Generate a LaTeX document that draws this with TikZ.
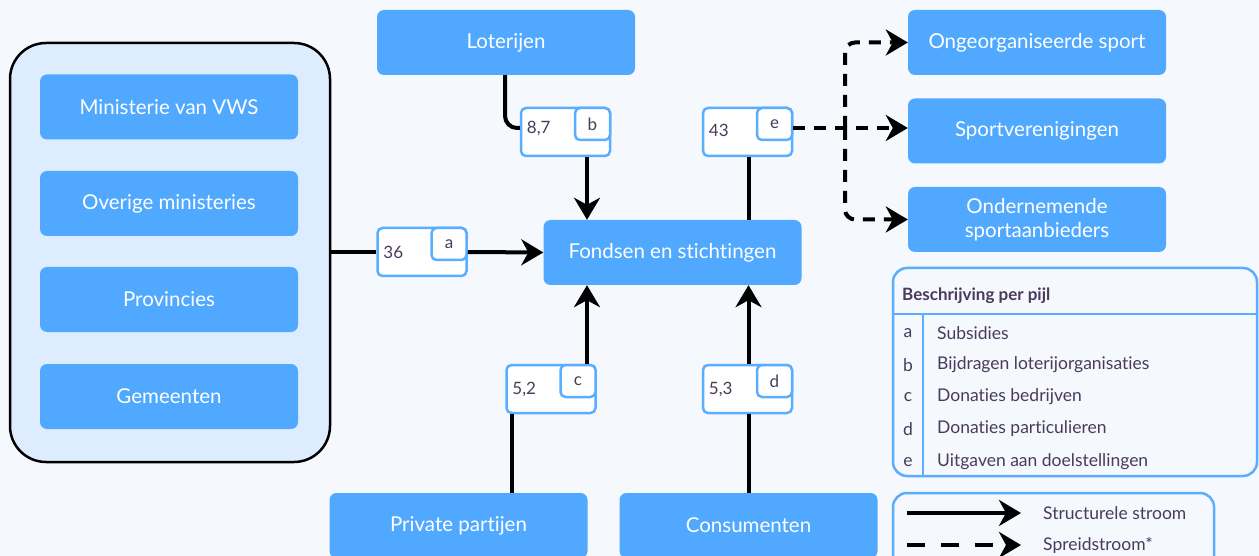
\documentclass[tikz,border=0pt]{standalone}
\usepackage{fontspec}
\setmainfont{Lato}[Ligatures=NoCommon]
\usetikzlibrary{arrows.meta}
\definecolor{bg}{HTML}{F5F8FD}
\definecolor{boxblue}{HTML}{50A9FF}
\definecolor{groupfill}{HTML}{DDEDFF}
\definecolor{lblborder}{HTML}{5AAEFF}
\definecolor{txt}{HTML}{4A3B5C}
\begin{document}
\begin{tikzpicture}[x=1pt,y=-1pt,
  bluebox/.style={draw=none, fill=boxblue, rounded corners=7pt, text=white,
    font=\fontsize{20.5}{24}\selectfont, minimum width=258pt, minimum height=65pt,
    inner sep=0pt, align=center},
  groupbox/.style={draw=black, line width=2.5pt, fill=groupfill, rounded corners=36pt,
    minimum width=320pt, minimum height=419pt, inner sep=0pt},
  lblout/.style={draw=lblborder, line width=2.5pt, fill=white, rounded corners=5pt,
    minimum width=89pt, minimum height=48pt, inner sep=0pt},
  lblin/.style={draw=lblborder, line width=2.5pt, fill=white, rounded corners=5pt,
    minimum width=35pt, minimum height=32pt, inner sep=0pt, text=txt,
    font=\fontsize{17}{18}\selectfont},
  lbltxt/.style={text=txt, font=\fontsize{17}{18}\selectfont, inner sep=0pt},
  legtxt/.style={text=txt, font=\fontsize{17.5}{18}\selectfont, inner sep=0pt, anchor=west},
  legframe/.style={draw=lblborder, line width=2.5pt, rounded corners=14pt},
  arr/.style={line width=4pt, draw=black, -{Stealth[length=22pt,width=26pt,inset=7pt]}},
  ln/.style={line width=4pt, draw=black},
  darr/.style={line width=4pt, draw=black, dash pattern=on 12pt off 9pt,
    -{Stealth[length=22pt,width=26pt,inset=7pt]}}
]
\clip (0,0) rectangle (1259,556);
\fill[bg] (0,0) rectangle (1259,556);

% group
\node[groupbox] (grp) at (170,252.5) {};
\node[bluebox] (vws) at (169,107) {Ministerie van VWS};
\node[bluebox] (omin) at (169,203.5) {Overige ministeries};
\node[bluebox] (prov) at (169,299.5) {Provincies};
\node[bluebox] (gem) at (169,396.5) {Gemeenten};

% main boxes
\node[bluebox] (lot) at (506,42.5) {Loterijen};
\node[bluebox] (fonds) at (672.5,252.5) {Fondsen en stichtingen};
\node[bluebox] (ong) at (1037,42.5) {Ongeorganiseerde sport};
\node[bluebox] (sv) at (1037,131) {Sportverenigingen};
\node[bluebox] (ond) at (1037,219.5) {Ondernemende\\sportaanbieders};
\node[bluebox] (priv) at (458.5,525.5) {Private partijen};
\node[bluebox] (cons) at (748.5,525.5) {Consumenten};

% label boxes
\node[lblout] (la) at (422,252) {};
\node[lblin, anchor=north east] (lai) at (la.north east) {a};
\node[lbltxt, anchor=west] (lat) at ([xshift=7pt]la.west) {36};

\node[lblout] (lb) at (565.5,132) {};
\node[lblin, anchor=north east] (lbi) at (lb.north east) {b};
\node[lbltxt, anchor=west] (lbt) at ([xshift=7pt,yshift=4pt]lb.west) {8,7};

\node[lblout] (le) at (747.5,132) {};
\node[lblin, anchor=north east] (lei) at (le.north east) {e};
\node[lbltxt, anchor=west] (let) at ([xshift=7pt,yshift=2pt]le.west) {43};

\node[lblout] (lc) at (551,389) {};
\node[lblin, anchor=north east] (lci) at (lc.north east) {c};
\node[lbltxt, anchor=west] (lct) at ([xshift=7pt]lc.west) {5,2};

\node[lblout] (ld) at (747.5,389) {};
\node[lblin, anchor=north east] (ldi) at (ld.north east) {d};
\node[lbltxt, anchor=west] (ldt) at ([xshift=7pt]ld.west) {5,3};

% connectors
\draw[ln] (grp.east |- la.west) -- (la.west);
\draw[arr] (la.east) -- (fonds.west);

\draw[ln, rounded corners=12pt] (505,0 |- lot.south) |- ([yshift=4pt]lb.west);
\draw[arr] (587,0 |- lb.south) -- (587,0 |- fonds.north);

\draw[ln] (748.5,0 |- fonds.north) -- (748.5,0 |- le.south);
\coordinate (split) at (845,128);
\draw[darr] ([yshift=4pt]le.east) -- (sv.west |- split);
\draw[darr, rounded corners=10pt] (split) |- (ong.west);
\draw[darr, rounded corners=10pt] (split) |- (ond.west);

\draw[ln] (512,0 |- priv.north) -- (512,0 |- lc.south);
\draw[arr] (587,0 |- lc.north) -- (587,0 |- fonds.south);
\draw[ln] (748.5,0 |- cons.north) -- (748.5,0 |- ld.south);
\draw[arr] (748.5,0 |- ld.north) -- (748.5,0 |- fonds.south);

% legend table
\node[legframe, minimum width=364pt, minimum height=208pt, inner sep=0pt] (leg) at (1075,372) {};
\draw[draw=lblborder, line width=2.5pt] (leg.west |- 0,314) -- (leg.east |- 0,314);
\draw[draw=lblborder, line width=2.5pt] (923,314) -- (923,0 |- leg.south);
\node[text=txt, font=\bfseries\fontsize{17}{18}\selectfont, inner sep=0pt, anchor=west] (legh) at (902,296) {Beschrijving per pijl};
\foreach \l/\t/\y in {a/Subsidies/333, b/Bijdragen loterijorganisaties/365, c/Donaties bedrijven/397, d/Donaties particulieren/429, e/Uitgaven aan doelstellingen/462}{
  \node[legtxt, anchor=center] (ll\l) at (908,\y) {\l};
  \node[legtxt] (lt\l) at (937,\y) {\t};
}

% legend arrows
\node[legframe, minimum width=321pt, minimum height=78pt, inner sep=0pt] (leg2) at (1053.5,532) {};
\coordinate (s1) at (907,513);
\coordinate (s2) at (907,545);
\node[legtxt] (st) at (1043,513) {Structurele stroom};
\node[legtxt] (sp) at (1043,545) {Spreidstroom*};
\draw[arr] (s1) -- (1021,513);
\draw[darr, dash pattern=on 18pt off 16pt] (s2) -- (1021,545);
\end{tikzpicture}
\end{document}
